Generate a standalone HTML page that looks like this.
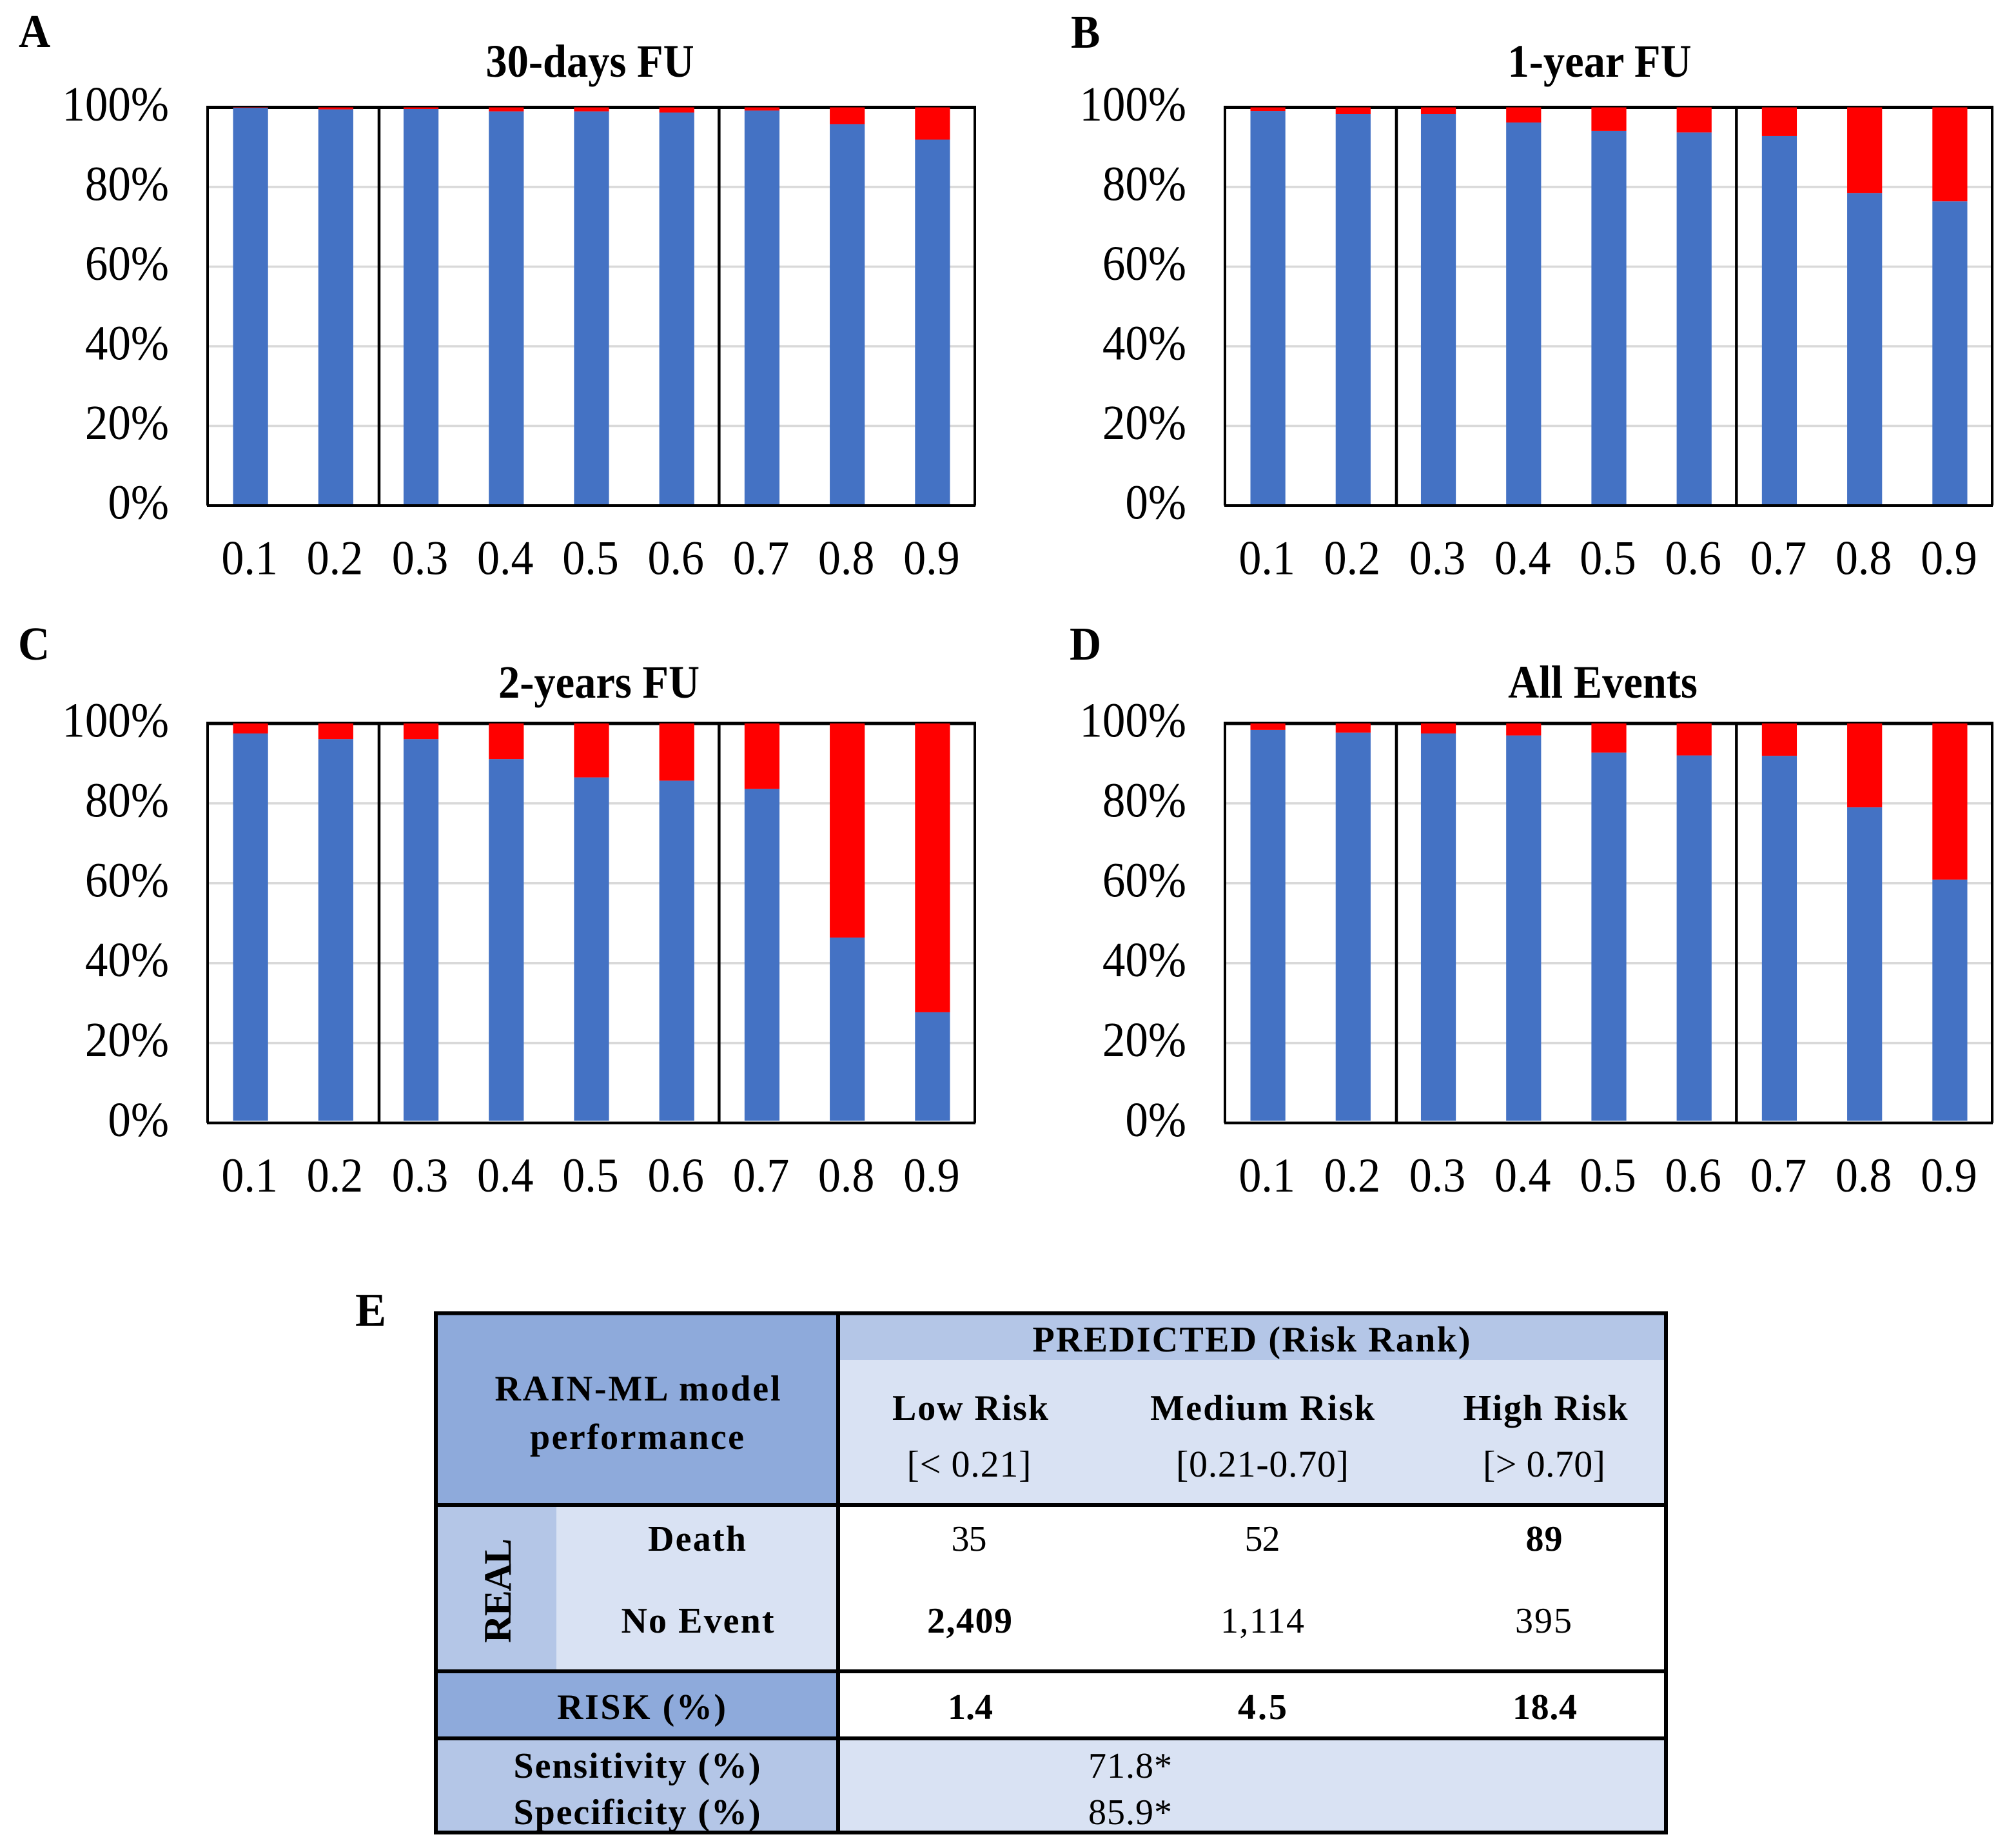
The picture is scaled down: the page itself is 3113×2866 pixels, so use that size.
<!DOCTYPE html>
<html lang="en">
<head>
<meta charset="utf-8">
<title>RAIN-ML model performance</title>
<style>
  html, body { margin: 0; padding: 0; background: #fff; }
  svg { display: block; }
  text { font-family: "Liberation Serif", serif; fill: #000; }
  .b { font-weight: bold; }
  .t { font-size: 56px; text-anchor: middle; }
  .panel-letter { font-size: 68px; font-weight: bold; }
  .panel-title { font-size: 66.5px; font-weight: bold; text-anchor: middle; }
</style>
</head>
<body>
<svg id="figure" xmlns="http://www.w3.org/2000/svg" width="3113" height="2866" viewBox="0 0 3113 2866">
  <rect x="0" y="0" width="3113" height="2866" fill="#ffffff"/>

  <text class="panel-letter" transform="translate(29 73) scale(1 1.08)">A</text>
  <text class="panel-letter" transform="translate(1661 74) scale(1 1.08)">B</text>
  <text class="panel-letter" transform="translate(28 1023) scale(1 1.08)">C</text>
  <text class="panel-letter" transform="translate(1659 1023) scale(1 1.08)">D</text>
  <text class="panel-letter" transform="translate(551 2056) scale(1.06 1.08)">E</text>

  <text class="panel-title" transform="translate(915 119) scale(1 1.08)">30-days FU</text>
  <text class="panel-title" transform="translate(2481 119) scale(1 1.08)">1-year FU</text>
  <text class="panel-title" transform="translate(929 1082) scale(1 1.08)">2-years FU</text>
  <text class="panel-title" transform="translate(2486 1082) scale(1 1.08)">All Events</text>

  <g id="charts"></g>

  <g id="risk-table">
    <rect x="676" y="2036" width="624" height="298" fill="#8EAADB"/>
    <rect x="1300" y="2036" width="1284" height="73" fill="#B4C6E7"/>
    <rect x="1300" y="2109" width="1284" height="225" fill="#D9E2F3"/>
    <rect x="676" y="2334" width="187" height="258" fill="#B4C6E7"/>
    <rect x="863" y="2334" width="437" height="258" fill="#D9E2F3"/>
    <rect x="676" y="2592" width="624" height="104" fill="#8EAADB"/>
    <rect x="676" y="2696" width="624" height="146" fill="#B4C6E7"/>
    <rect x="1300" y="2696" width="1284" height="146" fill="#D9E2F3"/>

    <g stroke="#000" stroke-width="6" fill="none">
      <rect x="676" y="2036.5" width="1908" height="805.5"/>
      <line x1="1300" y1="2036" x2="1300" y2="2842"/>
      <line x1="676" y1="2334" x2="2584" y2="2334"/>
      <line x1="676" y1="2592" x2="2584" y2="2592"/>
      <line x1="676" y1="2696" x2="2584" y2="2696"/>
    </g>

    <text class="t b" x="989" y="2172" textLength="443">RAIN-ML model</text>
    <text class="t b" x="988" y="2247" textLength="332">performance</text>
    <text class="t b" x="1941" y="2096" textLength="679">PREDICTED (Risk Rank)</text>
    <text class="t b" x="1505" y="2202" textLength="242">Low Risk</text>
    <text class="t" x="1503" y="2290" textLength="193" style="font-size:58px">[&lt; 0.21]</text>
    <text class="t b" x="1958" y="2202" textLength="348">Medium Risk</text>
    <text class="t" x="1958" y="2290" textLength="268" style="font-size:58px">[0.21-0.70]</text>
    <text class="t b" x="2397" y="2202" textLength="255">High Risk</text>
    <text class="t" x="2395" y="2290" textLength="190" style="font-size:58px">[&gt; 0.70]</text>

    <text class="t b" transform="translate(792 2467) rotate(-90)" x="0" y="0" textLength="162" style="font-size:60px">REAL</text>
    <text class="t b" x="1081" y="2405" textLength="152">Death</text>
    <text class="t b" x="1082" y="2532" textLength="237">No Event</text>

    <text class="t" x="1503" y="2405" textLength="55">35</text>
    <text class="t" x="1958" y="2405" textLength="55">52</text>
    <text class="t b" x="2395" y="2405" textLength="57">89</text>
    <text class="t b" x="1504" y="2532" textLength="132">2,409</text>
    <text class="t" x="1958" y="2532" textLength="130">1,114</text>
    <text class="t" x="2394" y="2532" textLength="88">395</text>

    <text class="t b" x="995" y="2666" textLength="262">RISK (%)</text>
    <text class="t b" x="1505" y="2666" textLength="70">1.4</text>
    <text class="t b" x="1958" y="2666" textLength="76">4.5</text>
    <text class="t b" x="2396" y="2666" textLength="100">18.4</text>

    <text class="t b" x="988" y="2757" textLength="383">Sensitivity (%)</text>
    <text class="t b" x="988" y="2829" textLength="383">Specificity (%)</text>
    <text class="t" x="1753" y="2757" textLength="130">71.8*</text>
    <text class="t" x="1753" y="2829" textLength="130">85.9*</text>
  </g>
</svg>

<script>
const categories = ['0.1', '0.2', '0.3', '0.4', '0.5', '0.6', '0.7', '0.8', '0.9'];
const yTicks = [0, 20, 40, 60, 80, 100];
const yTickLabels = ['0%', '20%', '40%', '60%', '80%', '100%'];
const dividerAfter = [2, 6];

const noEventA = [99.9, 99.5, 99.6, 99.0, 99.0, 98.7, 99.2, 95.8, 91.9];
const eventA = [0.1, 0.5, 0.4, 1.0, 1.0, 1.3, 0.8, 4.2, 8.1];

const noEventB = [99.1, 98.3, 98.3, 96.2, 94.1, 93.7, 92.8, 78.5, 76.4];
const eventB = [0.9, 1.7, 1.7, 3.8, 5.9, 6.3, 7.2, 21.5, 23.6];

const noEventC = [97.5, 96.1, 96.1, 91.1, 86.5, 85.7, 83.6, 46.4, 27.7];
const eventC = [2.5, 3.9, 3.9, 8.9, 13.5, 14.3, 16.4, 53.6, 72.3];

const noEventD = [98.4, 97.7, 97.5, 97.0, 92.7, 92.0, 91.9, 79.0, 60.9];
const eventD = [1.6, 2.3, 2.5, 3.0, 7.3, 8.0, 8.1, 21.0, 39.1];

const SVG_NS = 'http://www.w3.org/2000/svg';
const chartsRoot = document.getElementById('charts');

function make(parent, tag, attrs, text) {
  const el = document.createElementNS(SVG_NS, tag);
  Object.keys(attrs).forEach(function (k) { el.setAttribute(k, attrs[k]); });
  if (text !== undefined) el.textContent = text;
  parent.appendChild(el);
  return el;
}

function drawPanel(id, noEvent, event, left, top, width, height, barBottomGap) {
  const bottom = top + height;
  const band = width / categories.length;
  const barWidth = band * 0.41;
  const xCenter = function (i) { return left + band * (i + 0.5); };
  const yScale = function (v) { return bottom - (v / 100) * height; };

  const g = make(chartsRoot, 'g', {});
  
  

  yTicks.forEach(function (t, i) {
    if (t > 0 && t < 100) {
      const grid = make(g, 'line', { x1: left, x2: left + width, y1: yScale(t), y2: yScale(t), stroke: '#D9D9D9', 'stroke-width': 3.5 });
      
      
    }
    const label = make(g, 'text', {
      transform: 'translate(' + (left - 60) + ' ' + (yScale(t) + 20.5) + ') scale(1 1.08)',
      'font-size': 71, 'text-anchor': 'end'
    }, yTickLabels[i]);
    
    
  });

  const sideFrame = make(g, 'path', {
    d: 'M' + left + ' ' + bottom + 'V' + top + 'M' + (left + width) + ' ' + top + 'V' + bottom,
    fill: 'none', stroke: '#000', 'stroke-width': 4
  });
  
  

  const topLine = make(g, 'line', { x1: left - 2, x2: left + width + 2, y1: top, y2: top, stroke: '#000', 'stroke-width': 5 });
  
  

  dividerAfter.forEach(function (n) {
    const x = left + band * n + (n === 2 ? 1.5 : 0);
    const divider = make(g, 'line', { x1: x, x2: x, y1: top, y2: bottom, stroke: '#000', 'stroke-width': 4.5 });
    
    
  });

  categories.forEach(function (c, i) {
    const x = xCenter(i) - barWidth / 2 + 0.5;
    const base = yScale(0) - barBottomGap;
    const blueTop = yScale(noEvent[i]);
    const blue = make(g, 'rect', { x: x, y: blueTop, width: barWidth, height: base - blueTop, fill: '#4472C4' });
    
    

    const redTop = yScale(noEvent[i] + event[i]);
    const red = make(g, 'rect', { x: x, y: redTop, width: barWidth, height: blueTop - redTop, fill: '#FF0000' });
    
    

    const label = make(g, 'text', {
      transform: 'translate(' + (xCenter(i) - 1) + ' ' + (bottom + 106.5) + ') scale(1 1.08)',
      'font-size': 70, 'text-anchor': 'middle'
    }, c);
    
    
  });

  const axis = make(g, 'line', { x1: left - 1, x2: left + width + 1, y1: bottom, y2: bottom, stroke: '#000', 'stroke-width': 4 });
  
  
}

drawPanel('a', noEventA, eventA, 322, 166.5, 1190, 617.5, 0);
drawPanel('b', noEventB, eventB, 1900, 166.5, 1190, 617.5, 0);
drawPanel('c', noEventC, eventC, 322, 1122, 1190, 619.5, 3.5);
drawPanel('d', noEventD, eventD, 1900, 1122, 1190, 619.5, 3.5);
</script>
</body>
</html>
